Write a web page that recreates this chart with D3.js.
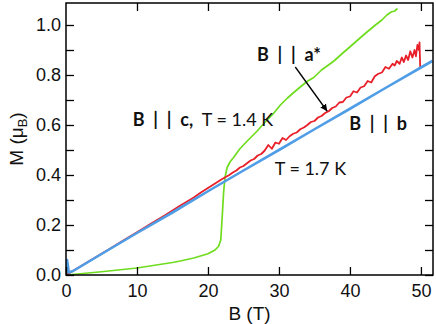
<!DOCTYPE html>
<html>
<head>
<meta charset="utf-8">
<script src="https://cdn.jsdelivr.net/npm/d3@7"></script>
<style>
    body { margin: 0; background: #fff; }
    svg { display: block; }
    .tick text { font-family: "Liberation Sans", Arial, sans-serif; }
    .anno { white-space: pre; }
</style>
</head>
<body>
<div id="chart"></div>
<script>
// B || b, T = 1.7 K
const bParallelB = [
    [0, 0], [0.15, 0.06], [0.4, 0.01], [1, 0.016], [5, 0.084], [10, 0.168],
    [15, 0.25], [20, 0.335], [25, 0.418], [30, 0.5], [35, 0.583],
    [40, 0.665], [45, 0.748], [50, 0.83], [51.6, 0.856]
];

// B || a*
const bParallelA = [
    [0, 0], [0.5, 0.008], [1, 0.017], [2, 0.034], [4, 0.068], [6, 0.102],
    [8, 0.137], [10, 0.171], [12, 0.206], [14, 0.24], [16, 0.276], [18, 0.31],
    [19, 0.33], [20, 0.348], [21, 0.366], [22, 0.384], [23, 0.4], [23.5, 0.41],
    [24, 0.418], [24.5, 0.43], [25, 0.436], [25.5, 0.447], [26, 0.458],
    [26.5, 0.464], [27, 0.478], [27.5, 0.484], [28, 0.498], [28.5, 0.52],
    [29, 0.505], [29.5, 0.53], [30, 0.525], [30.5, 0.548], [31, 0.54],
    [31.5, 0.555], [32, 0.565], [32.5, 0.57], [33, 0.583], [33.5, 0.59],
    [34, 0.6], [34.5, 0.612], [35, 0.616], [35.5, 0.63], [36, 0.636],
    [36.5, 0.648], [37, 0.655], [37.5, 0.668], [38, 0.674], [38.5, 0.69],
    [39, 0.692], [39.5, 0.71], [40, 0.714], [40.5, 0.735], [41, 0.73],
    [41.5, 0.75], [42, 0.755], [42.5, 0.776], [43, 0.77], [43.5, 0.795],
    [44, 0.805], [44.5, 0.81], [45, 0.832], [45.5, 0.825], [46, 0.845],
    [46.3, 0.838], [46.6, 0.856], [47, 0.845], [47.3, 0.87], [47.6, 0.852],
    [47.9, 0.878], [48.2, 0.86], [48.5, 0.895], [48.8, 0.87], [49.1, 0.9],
    [49.3, 0.875], [49.5, 0.92], [49.7, 0.9], [49.8, 0.93], [49.9, 0.83]
];

// B || c, T = 1.4 K
const bParallelC = [
    [0, 0], [2, 0.005], [5, 0.013], [10, 0.028], [15, 0.05], [16.1, 0.056],
    [18, 0.068], [20, 0.085], [21, 0.1], [21.5, 0.115], [21.8, 0.14],
    [22, 0.23], [22.2, 0.33], [22.4, 0.39], [22.7, 0.43], [23.1, 0.452],
    [23.6, 0.47], [24.5, 0.505], [25.5, 0.535], [26.9, 0.575], [28, 0.61],
    [29.2, 0.645], [30.2, 0.68], [31.2, 0.708], [32, 0.728], [33, 0.752],
    [34, 0.775], [34.9, 0.79], [36, 0.82], [37.7, 0.855], [39, 0.888],
    [40.5, 0.925], [41.5, 0.95], [42.4, 0.972], [43.5, 0.998], [44.5, 1.02],
    [45.2, 1.04], [45.8, 1.052], [46.3, 1.056], [46.7, 1.066]
];

const xTicks = [0, 10, 20, 30, 40, 50];
const yTicks = [0, 0.2, 0.4, 0.6, 0.8, 1.0];
const yMinorTicks = [0.1, 0.3, 0.5, 0.7, 0.9];

const width = 436, height = 324;
const margin = { top: 3, right: 3, bottom: 49, left: 66 };

const svg = d3.select("#chart")
    .append("svg")
    .attr("width", width)
    .attr("height", height);

const x = d3.scaleLinear()
    .domain([0, 51.7])
    .range([margin.left, width - margin.right]);

const y = d3.scaleLinear()
    .domain([0, 1.088])
    .range([height - margin.bottom, margin.top]);

const line = d3.line()
    .x(d => x(d[0]))
    .y(d => y(d[1]));

// clip the data to the frame
svg.append("defs").append("clipPath")
    .attr("id", "plot-clip")
    .append("rect")
    .attr("x", margin.left)
    .attr("y", margin.top)
    .attr("width", width - margin.left - margin.right)
    .attr("height", height - margin.top - margin.bottom);

const plot = svg.append("g").attr("clip-path", "url(#plot-clip)");

plot.append("path")
    .datum(bParallelC)
    .attr("fill", "none")
    .attr("stroke", "#6fdc1f")
    .attr("stroke-width", 1.7)
    .attr("stroke-linejoin", "round")
    .attr("d", line);

plot.append("path")
    .datum(bParallelA)
    .attr("fill", "none")
    .attr("stroke", "#e8202a")
    .attr("stroke-width", 1.8)
    .attr("stroke-linejoin", "round")
    .attr("d", line);

plot.append("path")
    .datum(bParallelB)
    .attr("fill", "none")
    .attr("stroke", "#4f9de6")
    .attr("stroke-width", 2.6)
    .attr("stroke-linejoin", "round")
    .attr("d", line);

// Axes - ticks point inward
const tickLen = 8;
const fontSize = "18px";

svg.append("g")
    .attr("transform", `translate(0,${y(0)})`)
    .call(d3.axisBottom(x).tickValues(xTicks).tickSize(-tickLen).tickPadding(9).tickFormat(d3.format("d")));

svg.append("g")
    .attr("transform", `translate(${x(0)},0)`)
    .call(d3.axisLeft(y).tickValues(yTicks).tickSize(-tickLen).tickPadding(5).tickFormat(d3.format(".1f")));

svg.append("g")
    .attr("transform", `translate(${x(0)},0)`)
    .call(d3.axisLeft(y).tickValues(yMinorTicks).tickSize(-tickLen).tickFormat(""));

svg.append("g")
    .attr("transform", `translate(0,${y.range()[1]})`)
    .call(d3.axisTop(x).tickValues(xTicks.slice(1)).tickSize(-tickLen).tickFormat(""));

svg.append("g")
    .attr("transform", `translate(${x.range()[1]},0)`)
    .call(d3.axisRight(y).tickValues(yTicks.concat(yMinorTicks)).tickSize(-tickLen).tickFormat(""));

svg.selectAll(".domain").remove();
svg.selectAll(".tick line").attr("stroke", "#000").attr("stroke-width", 1.3);
svg.selectAll(".tick text")
    .attr("font-size", fontSize)
    .attr("fill", "#111");

// frame
svg.append("rect")
    .attr("x", x.range()[0])
    .attr("y", y.range()[1])
    .attr("width", x.range()[1] - x.range()[0])
    .attr("height", y.range()[0] - y.range()[1])
    .attr("fill", "none")
    .attr("stroke", "#000")
    .attr("stroke-width", 1.5);

// axis labels
svg.append("text")
    .attr("x", (x.range()[0] + x.range()[1]) / 2)
    .attr("y", 320)
    .attr("text-anchor", "middle")
    .attr("font-family", "Liberation Sans, Arial, sans-serif")
    .attr("font-size", "19px")
    .attr("fill", "#111")
    .text("B (T)");

const yLabel = svg.append("text")
    .attr("transform", `translate(23,${(y.range()[0] + y.range()[1]) / 2}) rotate(-90)`)
    .attr("text-anchor", "middle")
    .attr("font-family", "Liberation Sans, Arial, sans-serif")
    .attr("font-size", "19px")
    .attr("fill", "#111");
yLabel.append("tspan").text("M (\u03bc");
yLabel.append("tspan").attr("font-size", "13px").attr("dy", 4).text("B");
yLabel.append("tspan").attr("dy", -4).text(")");

// annotations
const annoFont = "Lato, 'Open Sans', sans-serif";

function annotate(b, m, parts) {
    const t = svg.append("text")
        .attr("class", "anno")
        .attr("x", x(b))
        .attr("y", y(m))
        .attr("font-family", annoFont)
        .attr("font-size", "18px")
        .attr("fill", "#111");
    parts.forEach(p => {
        t.append("tspan")
            .attr("font-weight", p.bold ? "bold" : "normal")
            .text(p.text);
    });
}

annotate(26.9, 0.857, [{ text: "B  |  |  a*", bold: true }]);
annotate(9.4, 0.596, [{ text: "B  |  |  c,", bold: true }, { text: "  T = 1.4 K", bold: false }]);
annotate(39.9, 0.58, [{ text: "B  |  |  b", bold: true }]);
annotate(29.4, 0.4, [{ text: "T = 1.7 K", bold: false }]);

// arrow pointing at the a* curve
svg.append("defs").append("marker")
    .attr("id", "arrowhead")
    .attr("viewBox", "0 -5 10 10")
    .attr("refX", 10)
    .attr("refY", 0)
    .attr("markerWidth", 7)
    .attr("markerHeight", 7)
    .attr("markerUnits", "userSpaceOnUse")
    .attr("orient", "auto")
    .append("path")
    .attr("d", "M0,-5L10,0L0,5Z")
    .attr("fill", "#000");

svg.append("line")
    .attr("x1", x(32.3))
    .attr("y1", y(0.832))
    .attr("x2", x(36.8))
    .attr("y2", y(0.655))
    .attr("stroke", "#000")
    .attr("stroke-width", 1.3)
    .attr("marker-end", "url(#arrowhead)");
</script>
</body>
</html>
